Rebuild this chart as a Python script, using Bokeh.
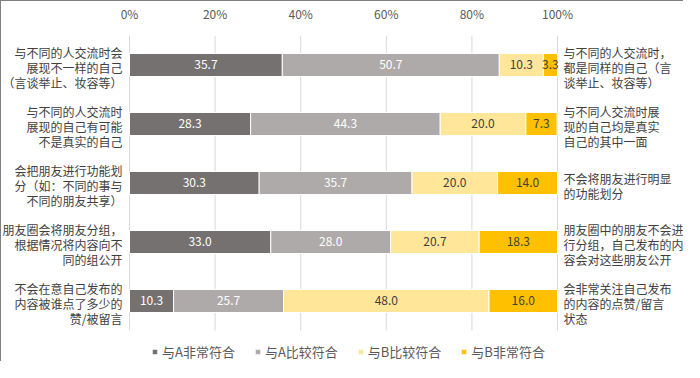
from bokeh.plotting import figure
from bokeh.models import (ColumnDataSource, Range1d, FixedTicker, Legend, LegendItem)
from bokeh.core.properties import value
from bokeh.embed import file_html
from bokeh.resources import INLINE

left_labels = [
    "与不同的人交流时会\n展现不一样的自己\n（言谈举止、妆容等）",
    "与不同的人交流时\n展现的自己有可能\n不是真实的自己",
    "会把朋友进行功能划\n分（如：不同的事与\n不同的朋友共享）",
    "朋友圈会将朋友分组，\n根据情况将内容向不\n同的组公开",
    "不会在意自己发布的\n内容被谁点了多少的\n赞/被留言",
]
right_labels = [
    "与不同的人交流时，\n都是同样的自己（言\n谈举止、妆容等）",
    "与不同人交流时展\n现的自己均是真实\n自己的其中一面",
    "不会将朋友进行明显\n的功能划分",
    "朋友圈中的朋友不会进\n行分组，自己发布的内\n容会对这些朋友公开",
    "会非常关注自己发布\n的内容的点赞/留言\n状态",
]
series_names = ["与A非常符合", "与A比较符合", "与B比较符合", "与B非常符合"]
a_very = [35.7, 28.3, 30.3, 33.0, 10.3]
a_some = [50.7, 44.3, 35.7, 28.0, 25.7]
b_some = [10.3, 20.0, 20.0, 20.7, 48.0]
b_very = [3.3, 7.3, 14.0, 18.3, 16.0]
tick_values = [0, 20, 40, 60, 80, 100]

series = [a_very, a_some, b_some, b_very]
colors = ["#767171", "#AEAAAA", "#FFE699", "#FFC000"]
label_colors = ["#FFFFFF", "#FFFFFF", "#404040", "#404040"]
FONT = "Noto Sans CJK SC"
LINE_H = 15

rows = list(range(len(left_labels)))

p = figure(width=683, height=361,
           x_range=Range1d(-29.907, 129.673),
           y_range=Range1d(5.0424, -0.5),
           x_axis_location="above",
           output_backend="svg", toolbar_location=None,
           min_border_left=0, min_border_right=0,
           min_border_top=34, min_border_bottom=0)
p.styles = {"border-left": "1px solid #808080", "border-top": "1px solid #808080"}
p.outline_line_color = None
p.xgrid.grid_line_color = None
p.ygrid.grid_line_color = None
p.yaxis.visible = False

# top axis
xa = p.xaxis[0]
xa.ticker = FixedTicker(ticks=tick_values)
xa.major_label_overrides = {t: f"{t}%" for t in tick_values}
xa.axis_line_color = None
xa.major_tick_line_color = None
xa.minor_tick_line_color = None
xa.major_label_text_font = FONT
xa.major_label_text_font_size = "12px"
xa.major_label_text_color = "#595959"
xa.major_label_standoff = 8

# vertical gridlines limited to the bar area
p.segment(x0=tick_values, x1=tick_values,
          y0=[rows[0] - 0.5] * len(tick_values), y1=[rows[-1] + 0.5] * len(tick_values),
          line_color="#D9D9D9", line_width=1)

# side labels, one text per line
def side_labels(labels, x, align, xoff):
    xs, ys, txt, yoff = [], [], [], []
    for i, lab in zip(rows, labels):
        lines = lab.split("\n")
        n = len(lines)
        for j, ln in enumerate(lines):
            xs.append(x)
            ys.append(i)
            txt.append(ln)
            yoff.append((j - (n - 1) / 2) * LINE_H + 3)
    src = ColumnDataSource(dict(x=xs, y=ys, t=txt, yo=yoff))
    p.text(x="x", y="y", text="t", y_offset="yo", x_offset=xoff, source=src,
           text_align=align, text_baseline="middle", text_font=value(FONT),
           text_font_size="12px", text_color="#404040")

side_labels(left_labels, tick_values[0], "right", -7)
side_labels(right_labels, tick_values[-1], "left", 6)

items = []
left = [0.0] * len(rows)
for vals, col, tcol, name in zip(series, colors, label_colors, series_names):
    right = [l + v for l, v in zip(left, vals)]
    src = ColumnDataSource(dict(
        row=rows, left=left, right=right,
        mid=[(l + r) / 2 for l, r in zip(left, right)],
        txt=[f"{v:.1f}" for v in vals]))
    r = p.hbar(y="row", left="left", right="right", height=0.39,
               fill_color=col, line_color="white", line_width=1, source=src)
    p.text(x="mid", y="row", text="txt", source=src, text_align="center",
           text_baseline="middle", text_font=value(FONT), text_font_size="12px",
           text_color=tcol)
    items.append(LegendItem(label=name, renderers=[r]))
    left = right

legend = Legend(items=items, orientation="horizontal", location=(150, 1),
                glyph_width=7, glyph_height=7, label_standoff=4, spacing=19,
                label_height=13, padding=0, margin=0, border_line_color=None,
                background_fill_alpha=0,
                label_text_font=FONT, label_text_font_size="13px",
                label_text_color="#595959")
p.add_layout(legend, "center")

open("out.html", "w").write(file_html(p, INLINE))
